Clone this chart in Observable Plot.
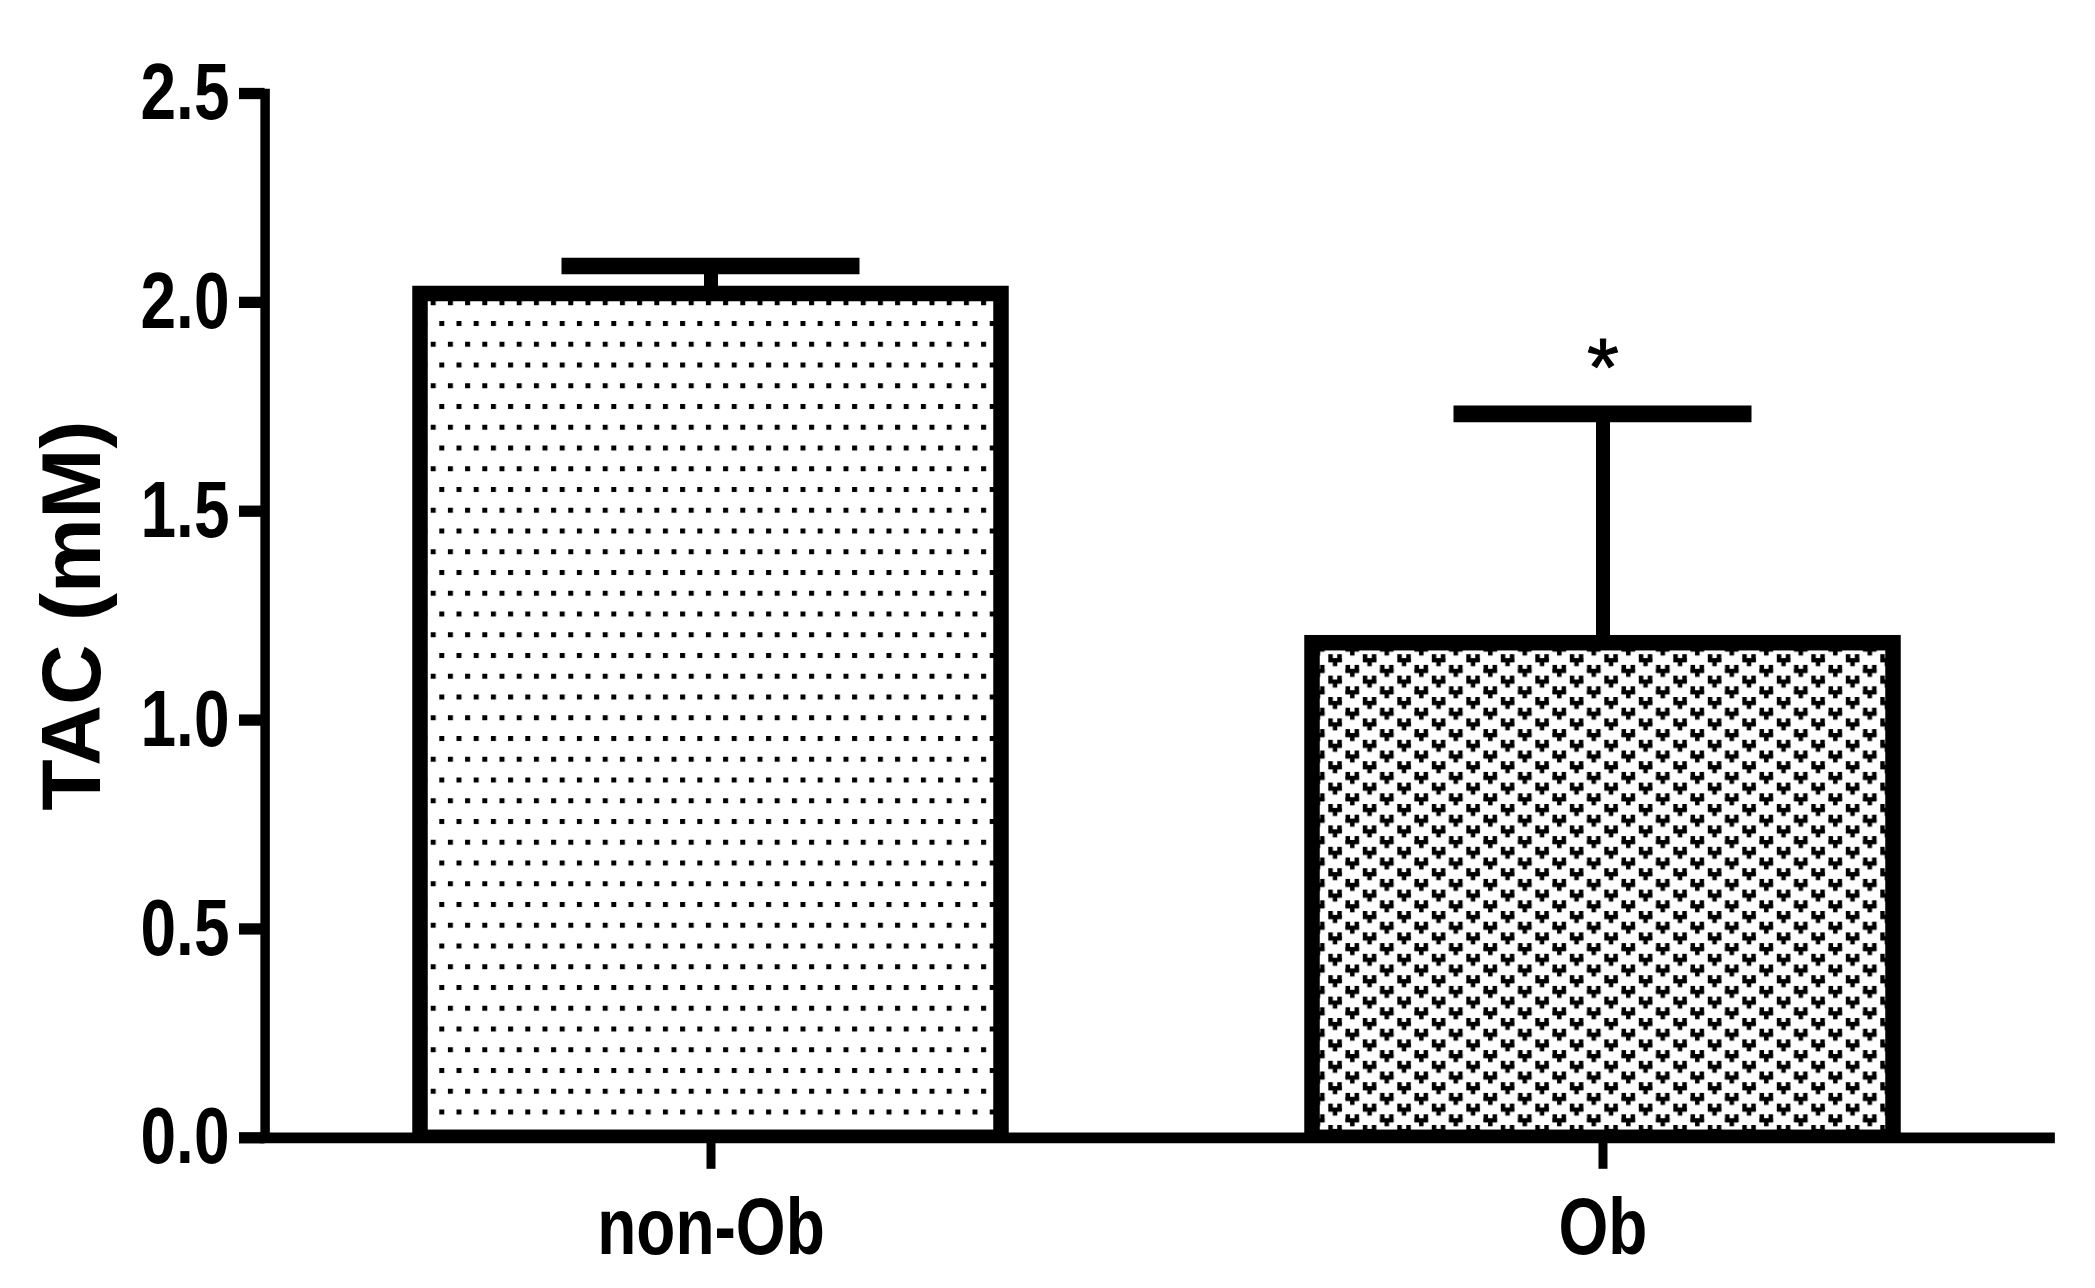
<!DOCTYPE html>
<html><head><meta charset="utf-8">
<script src="https://cdn.jsdelivr.net/npm/d3@7"></script>
<script src="https://cdn.jsdelivr.net/npm/@observablehq/plot@0.6"></script>
<style>html,body{margin:0;padding:0;background:#fff;overflow:hidden;}</style>
</head><body><div id="chart"></div>
<script>
// ---- data ----
const groups = ["non-Ob", "Ob"];
const means = [2.02, 1.184];
const upper = [2.087, 1.733];
const patterns = ["dots", "vees"];
const yTicks = [0, 0.5, 1.0, 1.5, 2.0, 2.5];
const yLabel = "TAC (mM)";
const sigGroups = ["Ob"];
const sigMarks = ["*"];

const data = groups.map((g, i) => ({group: g, mean: means[i], upper: upper[i], pattern: patterns[i]}));
const sig = sigGroups.map((g, i) => ({group: g, label: sigMarks[i], upper: upper[groups.indexOf(g)]}));

function hasFont(name) {
  const c = document.createElement("canvas").getContext("2d");
  c.font = "bold 80px monospace"; const a = c.measureText("non-Ob 0.5").width;
  c.font = `bold 80px '${name}', monospace`; const b = c.measureText("non-Ob 0.5").width;
  return a !== b;
}
const narrowOK = hasFont("Liberation Sans Narrow");
const tickFont = narrowOK ? "'Liberation Sans Narrow', sans-serif" : "'Liberation Sans', Arial, sans-serif";

const plot = Plot.plot({
  width: 2095, height: 1288,
  marginLeft: 264.6, marginRight: 46, marginTop: 93, marginBottom: 150.7,
  style: {background: "white", color: "black", fontFamily: "'Liberation Sans', Arial, sans-serif"},
  x: {domain: groups, paddingInner: 0.349, paddingOuter: 0.1744, label: null},
  y: {domain: [0, 2.5], label: null},
  marks: [
    Plot.ruleX(data, {x: "group", y1: "mean", y2: "upper", stroke: "black", strokeWidth: 14}),
    Plot.tickY(data, {x: "group", y: "upper", stroke: "black", strokeWidth: 16.7, insetLeft: 141.5, insetRight: 141.5}),
    Plot.barY(data.filter(d => d.pattern === "dots"), {x: "group", y: "mean", fill: "url(#dots)", stroke: "black", strokeWidth: 15.5, clip: "frame"}),
    Plot.barY(data.filter(d => d.pattern === "vees"), {x: "group", y: "mean", fill: "url(#vees)", stroke: "black", strokeWidth: 15.5, clip: "frame"}),
    Plot.text(sig, {x: "group", y: "upper", text: "label", dy: -19, lineAnchor: "bottom", fontSize: 82, fontWeight: "normal", fill: "black", stroke: "black", strokeWidth: 1}),
    Plot.frame({anchor: "left", stroke: "black", strokeWidth: 9.5, strokeLinecap: "square"}),
    Plot.frame({anchor: "bottom", stroke: "black", strokeWidth: 10.7, strokeLinecap: "square"}),
    Plot.axisY({ticks: yTicks, tickFormat: d3.format(".1f"), tickSize: 25.6, tickPadding: 10, strokeWidth: 11.3,
      fontSize: 80, fontWeight: "bold", fontFamily: tickFont, label: null}),
    Plot.axisX({tickSize: 31.5, tickPadding: 28, strokeWidth: 9, fontSize: 80, fontWeight: "bold", fontFamily: tickFont, label: null}),
    Plot.text([yLabel], {text: d => d, frameAnchor: "left", rotate: -90, dx: -165.6, textAnchor: "middle", lineAnchor: "bottom",
      fontSize: 84, fontWeight: "bold", fill: "black"})
  ]
});

document.getElementById("chart").appendChild(plot);

// pattern definitions
const svg = d3.select(plot);
const defs = svg.insert("defs", ":first-child");
const pd = defs.append("pattern").attr("id", "dots").attr("patternUnits", "userSpaceOnUse")
  .attr("x", 439.3).attr("y", 1068).attr("width", 17.2).attr("height", 41.5);
pd.append("rect").attr("width", 17.2).attr("height", 41.5).attr("fill", "white");
pd.append("rect").attr("x", 0).attr("y", 0).attr("width", 5).attr("height", 5).attr("fill", "black");
pd.append("rect").attr("x", 8.6).attr("y", 20.75).attr("width", 5).attr("height", 5).attr("fill", "black");

const pv = defs.append("pattern").attr("id", "vees").attr("patternUnits", "userSpaceOnUse")
  .attr("x", 1328.3).attr("y", 804).attr("width", 34.5).attr("height", 21.4);
pv.append("rect").attr("width", 34.5).attr("height", 21.4).attr("fill", "white");
function vee(g, x, y) {
  g.append("rect").attr("x", x).attr("y", y).attr("width", 4.5).attr("height", 8).attr("fill", "black");
  g.append("rect").attr("x", x + 9).attr("y", y).attr("width", 4.5).attr("height", 8).attr("fill", "black");
  g.append("rect").attr("x", x).attr("y", y + 4).attr("width", 13.5).attr("height", 4).attr("fill", "black");
  g.append("rect").attr("x", x + 4.5).attr("y", y + 4).attr("width", 4.5).attr("height", 8).attr("fill", "black");
}
vee(pv, 0, 0);
vee(pv, 17.25, 10.7);
vee(pv, 17.25, 10.7 - 21.4);
vee(pv, 0, 21.4);

// narrow-font fallback
if (!narrowOK) {
  svg.selectAll('g[aria-label="y-axis tick label"] text, g[aria-label="x-axis tick label"] text').each(function() {
    const w = this.getComputedTextLength();
    this.setAttribute("textLength", (w * 0.8).toFixed(1));
    this.setAttribute("lengthAdjust", "spacingAndGlyphs");
  });
}
</script>
</body></html>
